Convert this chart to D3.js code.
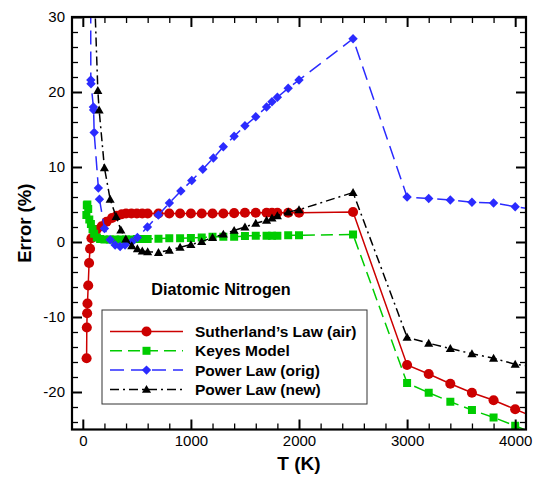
<!DOCTYPE html>
<html>
<head>
<meta charset="utf-8">
<script src="https://cdn.jsdelivr.net/npm/d3@7"></script>
<style>
  body { margin: 0; background: #fff; }
  svg { font-family: "Liberation Sans", Arial, Helvetica, sans-serif; }
</style>
</head>
<body>
<svg id="chart" width="537" height="477"></svg>
<script>
// Temperature (K) and error (%), one pair of lists per model
const sutherlandT = [35, 37, 40, 43, 50, 58, 67, 80, 125, 175, 220, 270, 315, 360, 400, 450, 500, 550, 600, 700, 800, 900, 1000, 1100, 1200, 1300, 1400, 1500, 1600, 1700, 1750, 1800, 1900, 2000, 2500, 3000, 3200, 3400, 3600, 3800, 4000, 4200];
const sutherlandErr = [-15.5, -11.4, -9.5, -8.2, -5.8, -2.8, -0.9, 0.5, 1.6, 2.1, 2.7, 3.2, 3.5, 3.7, 3.8, 3.8, 3.8, 3.8, 3.8, 3.8, 3.8, 3.8, 3.8, 3.8, 3.8, 3.8, 3.85, 3.9, 3.9, 3.9, 3.9, 3.9, 3.9, 3.9, 4.0, -16.4, -17.6, -18.9, -20.1, -21.1, -22.3, -23.5];

const keyesT = [33, 37, 42, 50, 60, 75, 90, 105, 130, 160, 200, 250, 300, 350, 400, 450, 500, 550, 600, 700, 800, 900, 1000, 1100, 1200, 1300, 1400, 1500, 1600, 1700, 1750, 1800, 1900, 2000, 2500, 3000, 3200, 3400, 3600, 3800, 4000, 4200];
const keyesErr = [3.6, 4.9, 5.0, 4.4, 3.0, 2.4, 1.7, 1.1, 0.6, 0.4, 0.35, 0.35, 0.35, 0.35, 0.35, 0.35, 0.4, 0.4, 0.4, 0.45, 0.5, 0.5, 0.55, 0.6, 0.7, 0.7, 0.7, 0.8, 0.85, 0.85, 0.85, 0.85, 0.9, 0.9, 1.0, -18.8, -20.1, -21.3, -22.4, -23.4, -24.5, -25.7];

const powerOrigT = [72, 74, 76, 98, 100, 105, 144, 154, 200, 253, 299, 345, 391, 453, 505, 598, 699, 801, 907, 1008, 1110, 1208, 1300, 1400, 1500, 1600, 1700, 1750, 1800, 1900, 2000, 2500, 3000, 3200, 3400, 3600, 3800, 4000, 4200];
const powerOrigErr = [45, 21.6, 21.1, 18.0, 17.6, 14.6, 7.2, 5.7, 1.8, 0.3, -0.4, -0.6, -0.4, 0.0, 0.6, 2.0, 3.6, 5.2, 6.8, 8.2, 9.7, 11.2, 12.7, 14.1, 15.5, 16.7, 18.0, 18.7, 19.3, 20.5, 21.6, 27.1, 6.0, 5.8, 5.6, 5.3, 5.2, 4.7, 4.3];

const powerNewT = [80, 139, 151, 200, 253, 308, 352, 398, 453, 505, 550, 600, 700, 800, 900, 1000, 1100, 1200, 1300, 1400, 1500, 1600, 1700, 1750, 1800, 1900, 2000, 2500, 3000, 3200, 3400, 3600, 3800, 4000, 4200];
const powerNewErr = [45, 20.2, 17.6, 9.9, 5.7, 3.4, 1.6, 0.4, -0.5, -0.9, -1.2, -1.3, -1.4, -1.1, -0.7, -0.35, 0.05, 0.6, 1.05, 1.55, 2.0, 2.5, 2.9, 3.2, 3.5, 4.0, 4.3, 6.6, -12.7, -13.5, -14.2, -14.9, -15.5, -16.3, -16.7];

const seriesNames = ["Sutherland\u2019s Law (air)", "Keyes Model", "Power Law (orig)", "Power Law (new)"];
const xTicks = [0, 1000, 2000, 3000, 4000];
const yTicks = [-20, -10, 0, 10, 20, 30];

const svg = d3.select('#chart');
const plotLeft = 72, plotRight = 526, plotTop = 17, plotBottom = 429.5;
const plotW = plotRight - plotLeft, plotH = plotBottom - plotTop;

let xScale = d3.scaleLinear().domain([-100, 4100]).range([0, plotW]);
let yScale = d3.scaleLinear().domain([-25, 30]).range([plotH, 0]);

let plot = svg.append('g').attr('transform', `translate(${plotLeft},${plotTop})`);

svg.append('defs').append('clipPath').attr('id', 'clip')
  .append('rect').attr('width', plotW).attr('height', plotH);

// styles per series
const styles = [
  { color: '#cc0000', dash: null, shape: 'circle' },
  { color: '#00cc00', dash: '12,6', shape: 'square' },
  { color: '#2b2bff', dash: '14,7', shape: 'diamond' },
  { color: '#000000', dash: '9,4,2,4', shape: 'triangle' }
];
const allSeries = [
  d3.zip(sutherlandT, sutherlandErr),
  d3.zip(keyesT, keyesErr),
  d3.zip(powerOrigT, powerOrigErr),
  d3.zip(powerNewT, powerNewErr)
];

function marker(shape) {
  if (shape === 'circle') return d3.symbol(d3.symbolCircle, 80)();
  if (shape === 'square') return d3.symbol(d3.symbolSquare, 64)();
  if (shape === 'diamond') return d3.symbol(d3.symbolSquare, 44)();
  return d3.symbol(d3.symbolTriangle, 36)();
}
function markerTransform(shape, x, y) {
  if (shape === 'diamond') return `translate(${x},${y}) rotate(45)`;
  if (shape === 'triangle') return `translate(${x},${y + 0.8})`;
  return `translate(${x},${y})`;
}

let line = d3.line().x(d => xScale(d[0])).y(d => yScale(d[1]));
let data = plot.append('g').attr('clip-path', 'url(#clip)');

allSeries.forEach(function(pts, i) {
  let st = styles[i];
  let g = data.append('g');
  g.append('path')
    .datum(pts)
    .attr('d', line)
    .attr('fill', 'none')
    .attr('stroke', st.color)
    .attr('stroke-width', 1.5)
    .attr('stroke-dasharray', st.dash);
  g.selectAll('path.pt')
    .data(pts)
    .enter().append('path')
    .attr('class', 'pt')
    .attr('d', marker(st.shape))
    .attr('transform', d => markerTransform(st.shape, xScale(d[0]), yScale(d[1])))
    .attr('fill', st.color);
});

// axes: ticks point into the plot
const xMinor = d3.range(0, 4100, 200).filter(v => v % 1000 !== 0);
const yMinor = d3.range(-24, 30, 2).filter(v => v % 10 !== 0);

function styleAxis(a, width) {
  a.select('.domain').remove();
  a.selectAll('.tick line').attr('stroke', '#000').attr('stroke-width', width);
}

let xAxis = plot.append('g').attr('transform', `translate(0,${plotH})`)
  .call(d3.axisBottom(xScale).tickValues(xTicks).tickSize(-10).tickPadding(6).tickFormat(d3.format('d')));
styleAxis(xAxis, 2);
xAxis.selectAll('text').style('font-size', '15px').attr('fill', '#000');
styleAxis(plot.append('g').attr('transform', `translate(0,${plotH})`)
  .call(d3.axisBottom(xScale).tickValues(xMinor).tickSize(-6).tickFormat('')), 1.3);
styleAxis(plot.append('g').call(d3.axisTop(xScale).tickValues(xTicks).tickSize(-10).tickFormat('')), 2);
styleAxis(plot.append('g').call(d3.axisTop(xScale).tickValues(xMinor).tickSize(-6).tickFormat('')), 1.3);

let yAxis = plot.append('g')
  .call(d3.axisLeft(yScale).tickValues(yTicks).tickSize(-10).tickPadding(7).tickFormat(d => d < 0 ? '-' + Math.abs(d) : d));
styleAxis(yAxis, 2);
yAxis.selectAll('text').style('font-size', '15px').attr('fill', '#000');
styleAxis(plot.append('g')
  .call(d3.axisLeft(yScale).tickValues(yMinor).tickSize(-6).tickFormat('')), 1.3);
styleAxis(plot.append('g').attr('transform', `translate(${plotW},0)`)
  .call(d3.axisRight(yScale).tickValues(yTicks).tickSize(-10).tickFormat('')), 2);
styleAxis(plot.append('g').attr('transform', `translate(${plotW},0)`)
  .call(d3.axisRight(yScale).tickValues(yMinor).tickSize(-6).tickFormat('')), 1.3);

// frame
plot.append('rect')
  .attr('width', plotW).attr('height', plotH)
  .attr('fill', 'none').attr('stroke', '#000').attr('stroke-width', 2.2);

// axis titles
svg.append('text')
  .attr('x', (plotLeft + plotRight) / 2).attr('y', 470)
  .attr('text-anchor', 'middle')
  .style('font-size', '19px').style('font-weight', 'bold')
  .text('T (K)');
svg.append('text')
  .attr('transform', `translate(31,${(plotTop + plotBottom) / 2}) rotate(-90)`)
  .attr('text-anchor', 'middle')
  .style('font-size', '18.5px').style('font-weight', 'bold')
  .text('Error (%)');

// plot label
svg.append('text')
  .attr('x', 221).attr('y', 295)
  .attr('text-anchor', 'middle')
  .style('font-size', '16.2px').style('font-weight', 'bold')
  .text('Diatomic Nitrogen');

// legend
let legend = svg.append('g').attr('transform', 'translate(102,310)');
legend.append('rect')
  .attr('width', 265).attr('height', 94)
  .attr('fill', '#fff').attr('stroke', '#333').attr('stroke-width', 1);
seriesNames.forEach(function(name, i) {
  let st = styles[i];
  let y = 21.5 + i * 19.3;
  legend.append('line')
    .attr('x1', 8).attr('x2', 81).attr('y1', y).attr('y2', y)
    .attr('stroke', st.color).attr('stroke-width', 1.5)
    .attr('stroke-dasharray', st.dash);
  legend.append('path')
    .attr('d', marker(st.shape))
    .attr('transform', markerTransform(st.shape, 44.5, y))
    .attr('fill', st.color);
  legend.append('text')
    .attr('x', 93).attr('y', y + 5.5)
    .style('font-size', '15.5px').style('font-weight', 'bold')
    .text(name);
});
</script>
</body>
</html>
